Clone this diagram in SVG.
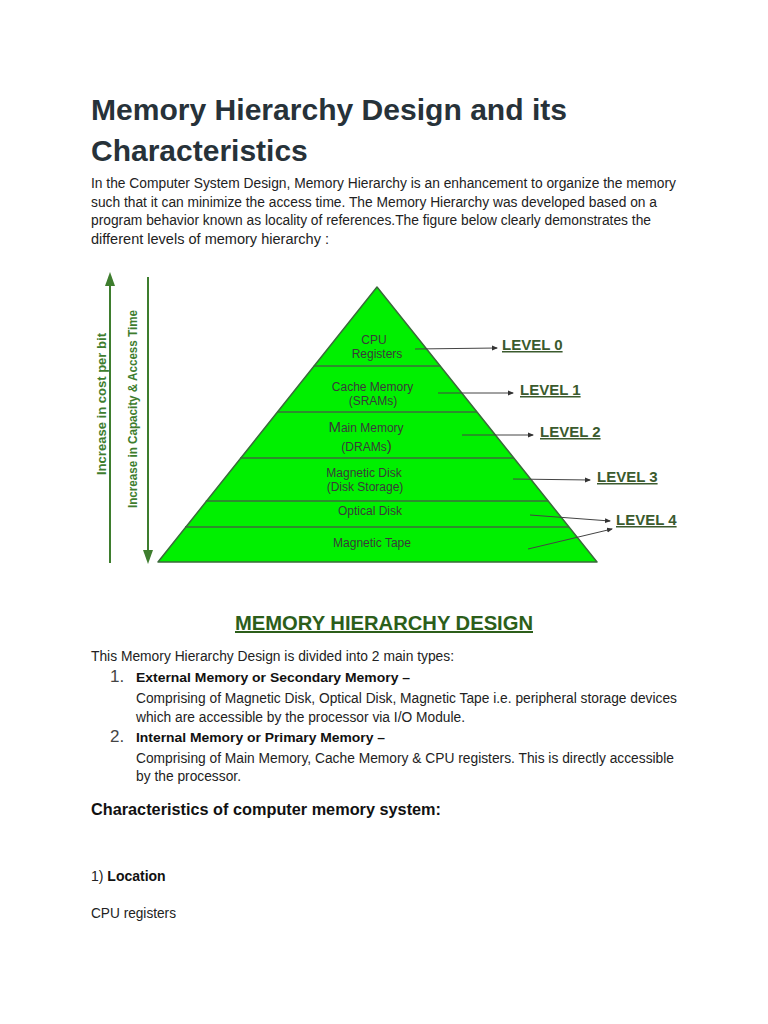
<svg xmlns="http://www.w3.org/2000/svg" width="768" height="1024" viewBox="0 0 768 1024">
<style>
.t{font-family:"Liberation Sans",Arial,sans-serif}
.title{font-size:30px;font-weight:bold;fill:#273239}
.body{font-size:14px;fill:#222}
.b{font-weight:bold}
.pl{font-size:12px;fill:#3a3a3a;text-anchor:middle}
.lvl{font-size:15px;font-weight:bold;fill:#3b5a2e;text-decoration:underline}
.side{font-size:12px;font-weight:bold;fill:#3e7d2e;text-anchor:middle}
.band{stroke:#3d6b3d;stroke-width:1.5}
.la{stroke:#444;stroke-width:1;fill:none;marker-end:url(#ah)}
.ga{stroke:#3e7d2e;stroke-width:2}
</style>
<defs>
<marker id="ah" markerWidth="6" markerHeight="6" refX="5" refY="3" orient="auto" markerUnits="userSpaceOnUse">
<path d="M0,0.5 L6,3 L0,5.5 Z" fill="#333"/>
</marker>
</defs>
<rect width="768" height="1024" fill="#fff"/>

<g id="heading">
<text class="t title" x="91" y="120" textLength="476" lengthAdjust="spacingAndGlyphs">Memory Hierarchy Design and its</text>
<text class="t title" x="91" y="161">Characteristics</text>
</g>

<g id="intro">
<text class="t body" x="91" y="188" textLength="585" lengthAdjust="spacingAndGlyphs">In the Computer System Design, Memory Hierarchy is an enhancement to organize the memory</text>
<text class="t body" x="91" y="206.5" textLength="566" lengthAdjust="spacingAndGlyphs">such that it can minimize the access time. The Memory Hierarchy was developed based on a</text>
<text class="t body" x="91" y="225" textLength="560" lengthAdjust="spacingAndGlyphs">program behavior known as locality of references.The figure below clearly demonstrates the</text>
<text class="t body" x="91" y="243.5" textLength="238" lengthAdjust="spacingAndGlyphs">different levels of memory hierarchy :</text>
</g>

<g id="side-arrows">
<line class="ga" x1="110" y1="563" x2="110" y2="284"/>
<path d="M110,272 L105,286 L115,286 Z" fill="#3e7d2e"/>
<line class="ga" x1="148" y1="277" x2="148" y2="552"/>
<path d="M148,564 L143,550 L153,550 Z" fill="#3e7d2e"/>
<text class="t side" transform="translate(106,404) rotate(-90)" textLength="142" lengthAdjust="spacingAndGlyphs">Increase in cost per bit</text>
<text class="t side" transform="translate(137,409) rotate(-90)" textLength="198" lengthAdjust="spacingAndGlyphs">Increase in Capacity &amp; Access Time</text>
</g>

<g id="pyramid">
<path d="M377,287 L597,562 L158,562 Z" fill="#00f000" stroke="#3a6a3a" stroke-width="1.5" stroke-linejoin="round"/>
<line class="band" x1="313.8" y1="366" x2="440.2" y2="366"/>
<line class="band" x1="277" y1="412" x2="477" y2="412"/>
<line class="band" x1="240.2" y1="458" x2="513.8" y2="458"/>
<line class="band" x1="205.8" y1="501" x2="548.2" y2="501"/>
<line class="band" x1="185" y1="527" x2="569" y2="527"/>
</g>

<g id="level0-node">
<text class="t pl" x="374" y="344">CPU</text>
<text class="t pl" x="377" y="358">Registers</text>
</g>
<g id="level1-node">
<text class="t pl" x="372.5" y="391">Cache Memory</text>
<text class="t pl" x="373" y="405">(SRAMs)</text>
</g>
<g id="level2-node">
<text class="t pl" x="366" y="432"><tspan font-size="15">M</tspan>ain Memory</text>
<text class="t pl" x="366.5" y="451">(DRAMs<tspan font-size="15">)</tspan></text>
</g>
<g id="level3-node">
<text class="t pl" x="364" y="477">Magnetic Disk</text>
<text class="t pl" x="365" y="491">(Disk Storage)</text>
</g>
<g id="level4a-node">
<text class="t pl" x="370" y="515">Optical Disk</text>
</g>
<g id="level4b-node">
<text class="t pl" x="372" y="547">Magnetic Tape</text>
</g>

<g id="connectors">
<line class="la" x1="415" y1="349" x2="497" y2="348"/>
<line class="la" x1="438" y1="393" x2="513" y2="393"/>
<line class="la" x1="462" y1="435" x2="533" y2="435"/>
<line class="la" x1="513" y1="479" x2="590" y2="480"/>
<line class="la" x1="530" y1="515" x2="610" y2="521"/>
<line class="la" x1="528" y1="549" x2="612" y2="529"/>
</g>

<g id="level-labels">
<text class="t lvl" x="502" y="350">LEVEL 0</text>
<text class="t lvl" x="520" y="395">LEVEL 1</text>
<text class="t lvl" x="540" y="437">LEVEL 2</text>
<text class="t lvl" x="597" y="482">LEVEL 3</text>
<text class="t lvl" x="616" y="525">LEVEL 4</text>
</g>

<g id="design-heading">
<text class="t" x="235" y="630" font-size="20" font-weight="bold" fill="#2c5e1a" text-decoration="underline" textLength="298" lengthAdjust="spacingAndGlyphs">MEMORY HIERARCHY DESIGN</text>
</g>

<g id="types">
<text class="t body" x="91" y="661" textLength="363" lengthAdjust="spacingAndGlyphs">This Memory Hierarchy Design is divided into 2 main types:</text>
<text class="t" x="110" y="682" font-size="17" fill="#444">1.</text>
<text class="t b" x="136" y="682" font-size="13" fill="#111" textLength="274" lengthAdjust="spacingAndGlyphs">External Memory or Secondary Memory –</text>
<text class="t body" x="136" y="703" textLength="541" lengthAdjust="spacingAndGlyphs">Comprising of Magnetic Disk, Optical Disk, Magnetic Tape i.e. peripheral storage devices</text>
<text class="t body" x="136" y="722" textLength="329" lengthAdjust="spacingAndGlyphs">which are accessible by the processor via I/O Module.</text>
<text class="t" x="110" y="742" font-size="17" fill="#444">2.</text>
<text class="t b" x="136" y="742" font-size="13" fill="#111" textLength="249" lengthAdjust="spacingAndGlyphs">Internal Memory or Primary Memory –</text>
<text class="t body" x="136" y="763" textLength="538" lengthAdjust="spacingAndGlyphs">Comprising of Main Memory, Cache Memory &amp; CPU registers. This is directly accessible</text>
<text class="t body" x="136" y="781" textLength="105" lengthAdjust="spacingAndGlyphs">by the processor.</text>
</g>

<g id="characteristics">
<text class="t b" x="91" y="815" font-size="17" fill="#111" textLength="350" lengthAdjust="spacingAndGlyphs">Characteristics of computer memory system:</text>
<text class="t body" x="91" y="881">1) <tspan class="b" fill="#111">Location</tspan></text>
<text class="t body" x="91" y="918" textLength="85" lengthAdjust="spacingAndGlyphs">CPU registers</text>
</g>
</svg>
